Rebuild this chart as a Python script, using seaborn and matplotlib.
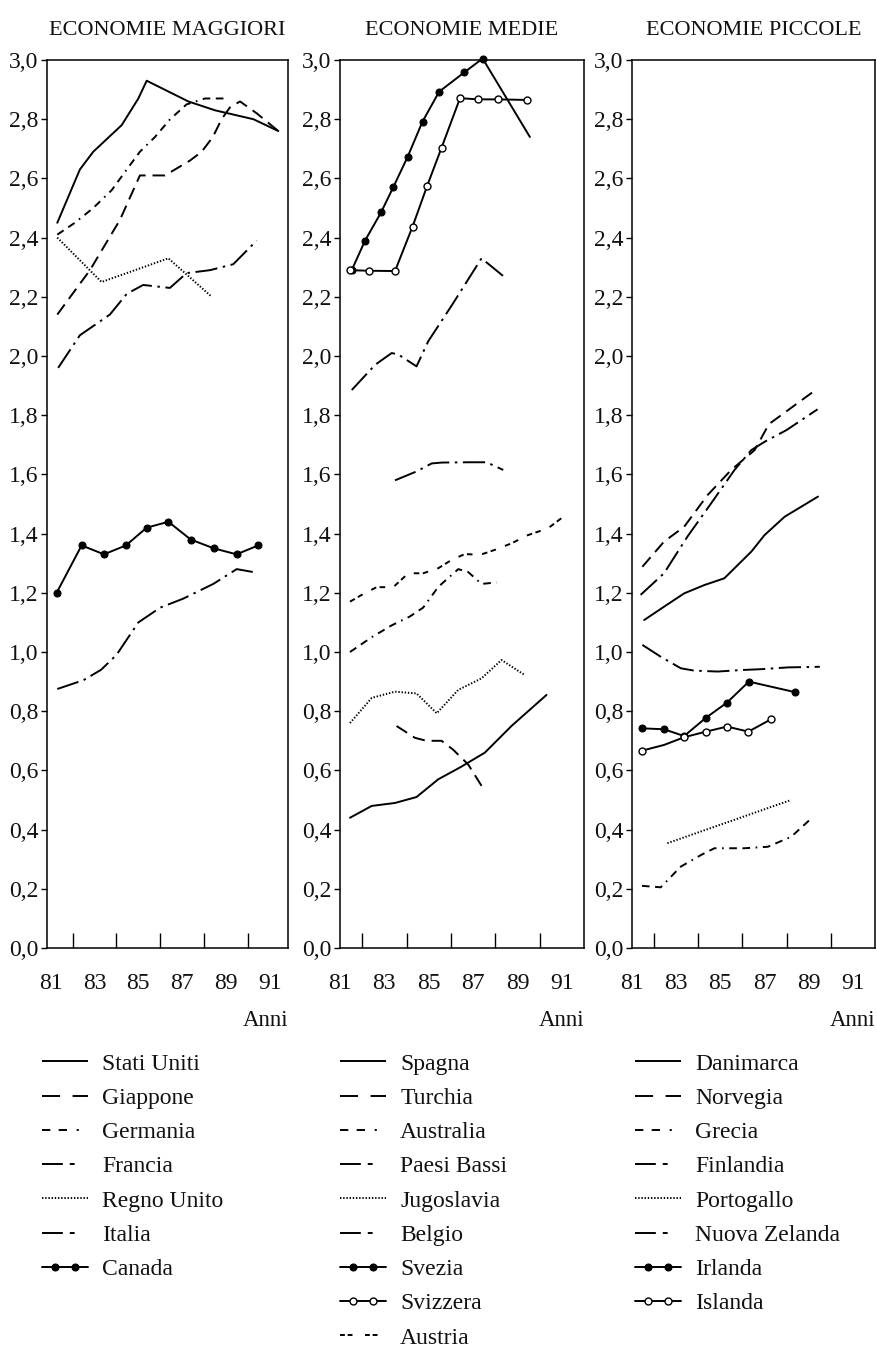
import matplotlib
matplotlib.use("Agg")
import matplotlib.pyplot as plt
import seaborn as sns
from matplotlib.lines import Line2D
from matplotlib.legend_handler import HandlerLine2D, HandlerTuple
from matplotlib.ticker import FuncFormatter, FixedLocator

# ---------------- DATA ----------------
titles = ["ECONOMIE MAGGIORI", "ECONOMIE MEDIE", "ECONOMIE PICCOLE"]
year_labels = [81, 83, 85, 87, 89, 91]
year_minor = [82, 83, 84, 85, 86, 87, 88, 89, 90, 91]
y_ticks = [0.0, 0.2, 0.4, 0.6, 0.8, 1.0, 1.2, 1.4, 1.6, 1.8, 2.0, 2.2, 2.4, 2.6, 2.8, 3.0]
x_label = "Anni"

# Economie maggiori
names_1 = ["Stati Uniti", "Giappone", "Germania", "Francia", "Regno Unito", "Italia", "Canada"]
us_x = [81.30, 82.33, 82.94, 84.24, 85.00, 85.38, 87.28, 88.50, 90.25, 91.39]
us_y = [2.45, 2.63, 2.69, 2.78, 2.87, 2.93, 2.86, 2.83, 2.80, 2.76]
jp_x = [81.30, 82.79, 84.16, 85.07, 85.38, 86.21, 86.67, 87.35, 87.89, 88.40, 88.80, 89.18, 89.64, 90.40, 91.39]
jp_y = [2.14, 2.29, 2.46, 2.61, 2.61, 2.61, 2.63, 2.66, 2.69, 2.74, 2.80, 2.84, 2.86, 2.82, 2.76]
de_x = [81.30, 82.10, 82.94, 83.78, 84.47, 85.07, 85.76, 86.45, 87.20, 88.04, 89.03]
de_y = [2.41, 2.45, 2.50, 2.56, 2.63, 2.69, 2.74, 2.80, 2.85, 2.87, 2.87]
fr_x = [81.34, 82.33, 83.70, 84.47, 85.22, 86.44, 87.20, 88.27, 89.33, 90.40]
fr_y = [1.96, 2.07, 2.14, 2.21, 2.24, 2.23, 2.28, 2.29, 2.31, 2.39]
uk_x = [81.30, 83.32, 86.37, 88.35]
uk_y = [2.40, 2.25, 2.33, 2.20]
it_x = [81.30, 82.50, 83.30, 84.00, 85.00, 86.00, 87.04, 88.42, 89.49, 90.25]
it_y = [0.875, 0.905, 0.94, 0.99, 1.10, 1.15, 1.18, 1.23, 1.28, 1.27]
ca_x = [81.27, 82.41, 83.43, 84.43, 85.38, 86.37, 87.39, 88.45, 89.48, 90.47]
ca_y = [1.20, 1.36, 1.33, 1.36, 1.42, 1.44, 1.38, 1.35, 1.33, 1.36]

# Economie medie
names_2 = ["Spagna", "Turchia", "Australia", "Paesi Bassi", "Jugoslavia", "Belgio",
           "Svezia", "Svizzera", "Austria"]
es_x = [81.45, 82.43, 83.48, 84.45, 85.43, 86.41, 87.53, 88.73, 90.31]
es_y = [0.44, 0.48, 0.49, 0.51, 0.57, 0.61, 0.66, 0.75, 0.855]
tr_x = [83.55, 84.38, 84.90, 85.58, 86.10, 86.78, 87.53]
tr_y = [0.75, 0.71, 0.70, 0.70, 0.67, 0.62, 0.53]
aus_x = [81.45, 82.43, 83.33, 84.15, 84.75, 85.43, 86.33, 86.78, 87.38, 88.06]
aus_y = [1.00, 1.05, 1.09, 1.12, 1.15, 1.22, 1.28, 1.27, 1.23, 1.235]
nl_x = [81.53, 82.58, 83.33, 83.63, 84.45, 84.98, 86.03, 87.38, 88.36]
nl_y = [1.885, 1.97, 2.01, 2.005, 1.965, 2.05, 2.17, 2.33, 2.27]
yu_x = [81.45, 82.43, 83.48, 84.45, 85.36, 86.33, 87.38, 88.28, 89.33]
yu_y = [0.76, 0.845, 0.866, 0.86, 0.793, 0.872, 0.911, 0.973, 0.922]
be_x = [83.48, 84.45, 85.13, 85.58, 86.78, 87.61, 88.36]
be_y = [1.58, 1.61, 1.637, 1.64, 1.641, 1.641, 1.615]
se_x = [81.53, 82.13, 82.85, 83.40, 84.05, 84.72, 85.47, 86.60, 87.43, 89.56]
se_y = [2.29, 2.39, 2.485, 2.57, 2.673, 2.792, 2.893, 2.958, 3.005, 2.74]
ch_x = [81.45, 82.31, 83.48, 84.27, 84.93, 85.58, 86.41, 87.23, 88.13, 89.41]
ch_y = [2.29, 2.288, 2.287, 2.437, 2.575, 2.704, 2.871, 2.867, 2.867, 2.865]
at_x = [81.45, 81.98, 82.65, 83.40, 84.08, 84.75, 85.43, 86.03, 86.63, 87.31, 87.98, 88.73, 89.48, 90.38, 91.28]
at_y = [1.17, 1.193, 1.219, 1.219, 1.266, 1.266, 1.283, 1.311, 1.331, 1.328, 1.345, 1.367, 1.395, 1.418, 1.469]

# Economie piccole
names_3 = ["Danimarca", "Norvegia", "Grecia", "Finlandia", "Portogallo", "Nuova Zelanda",
           "Irlanda", "Islanda"]
dk_x = [81.55, 82.45, 83.36, 84.27, 85.18, 85.79, 86.40, 87.00, 87.91, 89.42]
dk_y = [1.108, 1.153, 1.198, 1.226, 1.249, 1.294, 1.339, 1.395, 1.457, 1.525]
no_x = [81.47, 82.45, 83.36, 84.42, 85.49, 86.55, 87.20, 88.30, 89.40]
no_y = [1.288, 1.373, 1.423, 1.53, 1.615, 1.682, 1.77, 1.83, 1.89]
gr_x = [81.45, 82.30, 83.21, 84.12, 84.73, 86.09, 87.15, 88.21, 89.12]
gr_y = [0.21, 0.205, 0.275, 0.314, 0.337, 0.337, 0.342, 0.376, 0.438]
fi_x = [81.39, 82.45, 83.51, 84.58, 85.64, 86.40, 87.00, 88.00, 89.40]
fi_y = [1.193, 1.266, 1.39, 1.502, 1.615, 1.682, 1.71, 1.75, 1.82]
pt_x = [82.60, 88.20]
pt_y = [0.354, 0.50]
nz_x = [81.47, 82.30, 83.21, 83.82, 84.88, 85.94, 86.85, 88.06, 89.50]
nz_y = [1.024, 0.984, 0.945, 0.937, 0.934, 0.939, 0.942, 0.948, 0.95]
ie_x = [81.47, 82.45, 83.36, 84.35, 85.30, 86.29, 88.40]
ie_y = [0.742, 0.739, 0.716, 0.778, 0.829, 0.90, 0.864]
is_x = [81.47, 82.45, 83.36, 84.35, 85.30, 86.27, 87.30]
is_y = [0.667, 0.686, 0.712, 0.731, 0.748, 0.731, 0.773]

# ---------------- STYLES ----------------
SOLID = dict(linestyle="-")
LDASH = dict(linestyle=(0, (9, 5)))
SDASH = dict(linestyle=(0, (5.5, 4, 5.5, 4, 1.2, 4)))
DASHDOT = dict(linestyle=(0, (16, 4, 1.8, 4)))
DOT = dict(linestyle=(0, (1.0, 1.3)))
PAIR = dict(linestyle=(0, (4, 2.5, 4, 7)))
FILLED = dict(linestyle="-", marker="o", markersize=5, markerfacecolor="black",
              markeredgecolor="black", markeredgewidth=0.8)
OPEN = dict(linestyle="-", marker="o", markersize=5, markerfacecolor="white",
            markeredgecolor="black", markeredgewidth=1.0)

# legend sample patterns (as printed in the key)
LEG_STYLE = {
    id(SOLID): (0, ()),
    id(LDASH): (0, (13, 9)),
    id(SDASH): (0, (6, 6, 6, 7, 1.5, 12)),
    id(DASHDOT): (0, (15, 5, 3.5, 12)),
    id(DOT): (0, (1.0, 1.3)),
    id(PAIR): (0, (3.5, 2, 3.5, 9)),
}

panel_series = [
    [(us_x, us_y, SOLID, None), (jp_x, jp_y, LDASH, None), (de_x, de_y, SDASH, None),
     (fr_x, fr_y, DASHDOT, None), (uk_x, uk_y, DOT, None), (it_x, it_y, DASHDOT, None),
     (ca_x, ca_y, FILLED, None)],
    [(es_x, es_y, SOLID, None), (tr_x, tr_y, LDASH, None), (aus_x, aus_y, SDASH, None),
     (nl_x, nl_y, DASHDOT, None), (yu_x, yu_y, DOT, None), (be_x, be_y, DASHDOT, None),
     (se_x, se_y, FILLED, list(range(9))), (ch_x, ch_y, OPEN, None), (at_x, at_y, PAIR, None)],
    [(dk_x, dk_y, SOLID, None), (no_x, no_y, LDASH, None), (gr_x, gr_y, SDASH, None),
     (fi_x, fi_y, DASHDOT, None), (pt_x, pt_y, DOT, None), (nz_x, nz_y, DASHDOT, None),
     (ie_x, ie_y, FILLED, None), (is_x, is_y, OPEN, [0, 2, 3, 4, 5, 6])],
]
panel_names = [names_1, names_2, names_3]

# ---------------- FIGURE ----------------
sns.set_theme(style="white")
plt.rcParams["font.family"] = ["Liberation Serif", "DejaVu Serif"]
plt.rcParams["lines.scale_dashes"] = False
plt.rcParams["axes.edgecolor"] = "black"
plt.rcParams["axes.linewidth"] = 1.1
plt.rcParams["text.color"] = "#111111"

W, H = 878, 1352
fig = plt.figure(figsize=(W / 100, H / 100), dpi=100)
fig.patch.set_facecolor("white")

AX_TOP, AX_BOT = 60, 948
frames = [(47, 288, (80.83, 91.83)), (340, 584, (81.0, 92.0)), (632, 875, (81.0, 92.0))]
leg_x = [42, 340, 635]
LW = 1.4

def yfmt(v, pos):
    return f"{v:.1f}".replace(".", ",")

for i, (left, right, xlim) in enumerate(frames):
    ax = fig.add_axes([left / W, 1 - AX_BOT / H, (right - left) / W, (AX_BOT - AX_TOP) / H])
    ax.set_facecolor("white")
    for xs, ys, st, mev in panel_series[i]:
        kw = dict(st)
        if mev is not None:
            kw["markevery"] = mev
        sns.lineplot(x=xs, y=ys, ax=ax, color="black", linewidth=LW, sort=False,
                     estimator=None, errorbar=None, legend=False, clip_on=False, **kw)
    ax.set_xlim(*xlim)
    ax.set_ylim(0, 3.0)
    ax.set_xlabel("")
    ax.set_ylabel("")
    ax.xaxis.set_major_locator(FixedLocator(year_labels))
    ax.xaxis.set_minor_locator(FixedLocator(year_minor))
    ax.set_xticklabels([str(v) for v in year_labels])
    ax.yaxis.set_major_locator(FixedLocator(y_ticks))
    ax.yaxis.set_major_formatter(FuncFormatter(yfmt))
    ax.tick_params(axis="x", which="major", bottom=True, length=0, pad=18,
                   labelsize=17, labelcolor="#111111")
    ax.tick_params(axis="x", which="minor", bottom=True, direction="in", length=11,
                   width=1.0, color="black")
    ax.tick_params(axis="y", which="major", left=True, direction="out", length=4.3,
                   width=1.0, color="black", pad=2, labelsize=17, labelcolor="#111111")
    for s in ax.spines.values():
        s.set_visible(True)
        s.set_color("black")
        s.set_linewidth(1.1)
    ax.set_title(titles[i], fontsize=16, pad=18, color="#111111")
    fig.text(right / W, 1 - 1021 / H, x_label, ha="right", va="center", fontsize=16.5)

    # legend: full-length line sample, plus two markers for the dotted series
    handles = []
    hmap = {tuple: HandlerTuple(ndivide=1, pad=0)}
    for xs, ys, st, mev in panel_series[i]:
        if "marker" in st:
            base = Line2D([], [], color="black", linewidth=LW, linestyle="-")
            mk = Line2D([], [], color="black", linestyle="none", marker="o",
                        markersize=st["markersize"], markerfacecolor=st["markerfacecolor"],
                        markeredgecolor="black", markeredgewidth=st["markeredgewidth"])
            hmap[mk] = HandlerLine2D(numpoints=2, marker_pad=0.55)
            handles.append((base, mk))
        else:
            handles.append(Line2D([], [], color="black", linewidth=LW,
                                  linestyle=LEG_STYLE[id(st)]))
    fig.legend(handles, panel_names[i], loc="upper left",
               bbox_to_anchor=(leg_x[i] / W, 1 - 1053 / H),
               frameon=False, borderpad=0, borderaxespad=0, handlelength=1.95,
               handletextpad=0.6, labelspacing=0.54, fontsize=17, numpoints=1,
               handler_map=hmap)

fig.savefig("out.png", dpi=100, facecolor="white")
